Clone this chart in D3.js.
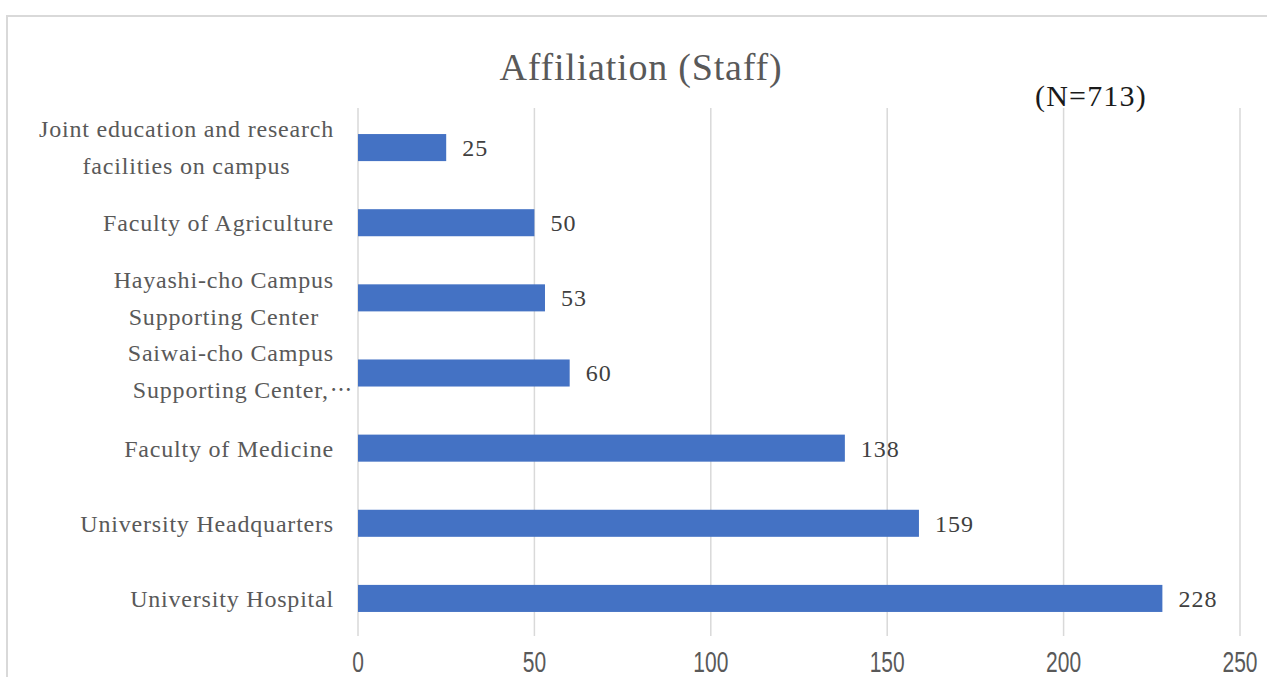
<!DOCTYPE html>
<html>
<head>
<meta charset="utf-8">
<script src="https://cdn.jsdelivr.net/npm/d3@7"></script>
<style>
  body { margin: 0; background: #fff; }
  svg text { font-family: "Liberation Serif", "DejaVu Serif", serif; }
</style>
</head>
<body>
<svg id="chart" width="1267" height="677"></svg>
<script>
"use strict";

// categories, top to bottom, each split into its label lines
const categories = [
    ["Joint education and research", "facilities on campus"],
    ["Faculty of Agriculture"],
    ["Hayashi-cho Campus", "Supporting Center"],
    ["Saiwai-cho Campus", "Supporting Center,\u22ef"],
    ["Faculty of Medicine"],
    ["University Headquarters"],
    ["University Hospital"]
];
const staffCounts = [25, 50, 53, 60, 138, 159, 228];
const xTicks = [0, 50, 100, 150, 200, 250];

const svg = d3.select("#chart");

// chart frame
svg.append("rect")
    .attr("x", 7).attr("y", 16)
    .attr("width", 1275).attr("height", 680)
    .attr("fill", "none")
    .attr("stroke", "#d9d9d9")
    .attr("stroke-width", 2);

const plotLeft = 358, plotRight = 1240, plotTop = 110, plotBottom = 636;

const x = d3.scaleLinear().domain([0, 250]).range([plotLeft, plotRight]);
const y = d3.scaleBand()
    .domain(d3.range(categories.length))
    .range([plotTop, plotBottom])
    .paddingInner(0.64)
    .paddingOuter(0.32);

// gridlines
svg.append("g")
    .selectAll("line")
    .data(xTicks)
    .join("line")
    .attr("x1", d => x(d)).attr("x2", d => x(d))
    .attr("y1", plotTop - 2).attr("y2", plotBottom)
    .attr("stroke", "#d9d9d9")
    .attr("stroke-width", 1.5);

// x tick labels (narrow face, squeezed horizontally)
svg.append("g")
    .selectAll("text")
    .data(xTicks)
    .join("text")
    .attr("transform", d => `translate(${x(d)},672) scale(0.7,1)`)
    .attr("text-anchor", "middle")
    .attr("fill", "#595959")
    .style("font-family", "'Liberation Sans', sans-serif")
    .attr("font-size", 30)
    .text(d => d);

// bars
svg.append("g")
    .selectAll("rect")
    .data(staffCounts)
    .join("rect")
    .attr("x", x(0))
    .attr("y", (d, i) => y(i))
    .attr("width", d => x(d) - x(0))
    .attr("height", y.bandwidth())
    .attr("fill", "#4472c4");

// value labels
svg.append("g")
    .selectAll("text")
    .data(staffCounts)
    .join("text")
    .attr("x", d => x(d) + 16)
    .attr("y", (d, i) => y(i) + y.bandwidth() / 2)
    .attr("dy", "0.35em")
    .attr("fill", "#404040")
    .attr("font-size", 24)
    .attr("letter-spacing", 1)
    .text(d => d);

// category labels: lines centred on each other, block right-aligned at 334;
// a trailing ellipsis hangs past the edge
const lineH = 37;
const catG = svg.append("g");
categories.forEach((lines, i) => {
    const cy = y(i) + y.bandwidth() / 2 - (i === 3 ? 2 : 0);
    const items = lines.map((s, k) => {
        const hang = s.endsWith("\u22ef");
        const t = catG.append("text")
            .attr("y", cy + (k - (lines.length - 1) / 2) * lineH)
            .attr("dy", "0.35em")
            .attr("fill", "#595959")
            .attr("font-size", 24)
            .attr("letter-spacing", 0.8)
            .attr("text-anchor", "middle")
            .text(hang ? s.slice(0, -1) : s);
        return { t, hang, w: t.node().getComputedTextLength() };
    });
    const maxW = d3.max(items, d => d.w);
    const cx = 334 - maxW / 2;
    items.forEach(d => {
        d.t.attr("x", cx);
        if (d.hang) {
            catG.append("text")
                .attr("x", cx + d.w / 2 + 1)
                .attr("y", d.t.attr("y"))
                .attr("dy", "0.35em")
                .attr("fill", "#595959")
                .attr("font-size", 22)
                .style("font-family", "'Noto Sans CJK JP', sans-serif")
                .text("\u22ef");
        }
    });
});

// title
svg.append("text")
    .attr("x", 641).attr("y", 80)
    .attr("text-anchor", "middle")
    .attr("fill", "#595959")
    .attr("font-size", 38)
    .attr("letter-spacing", 0.8)
    .text("Affiliation (Staff)");

svg.append("text")
    .attr("x", 1035).attr("y", 106)
    .attr("fill", "#1a1a1a")
    .attr("font-size", 30)
    .attr("letter-spacing", 1.2)
    .text("(N=713)");
</script>
</body>
</html>
